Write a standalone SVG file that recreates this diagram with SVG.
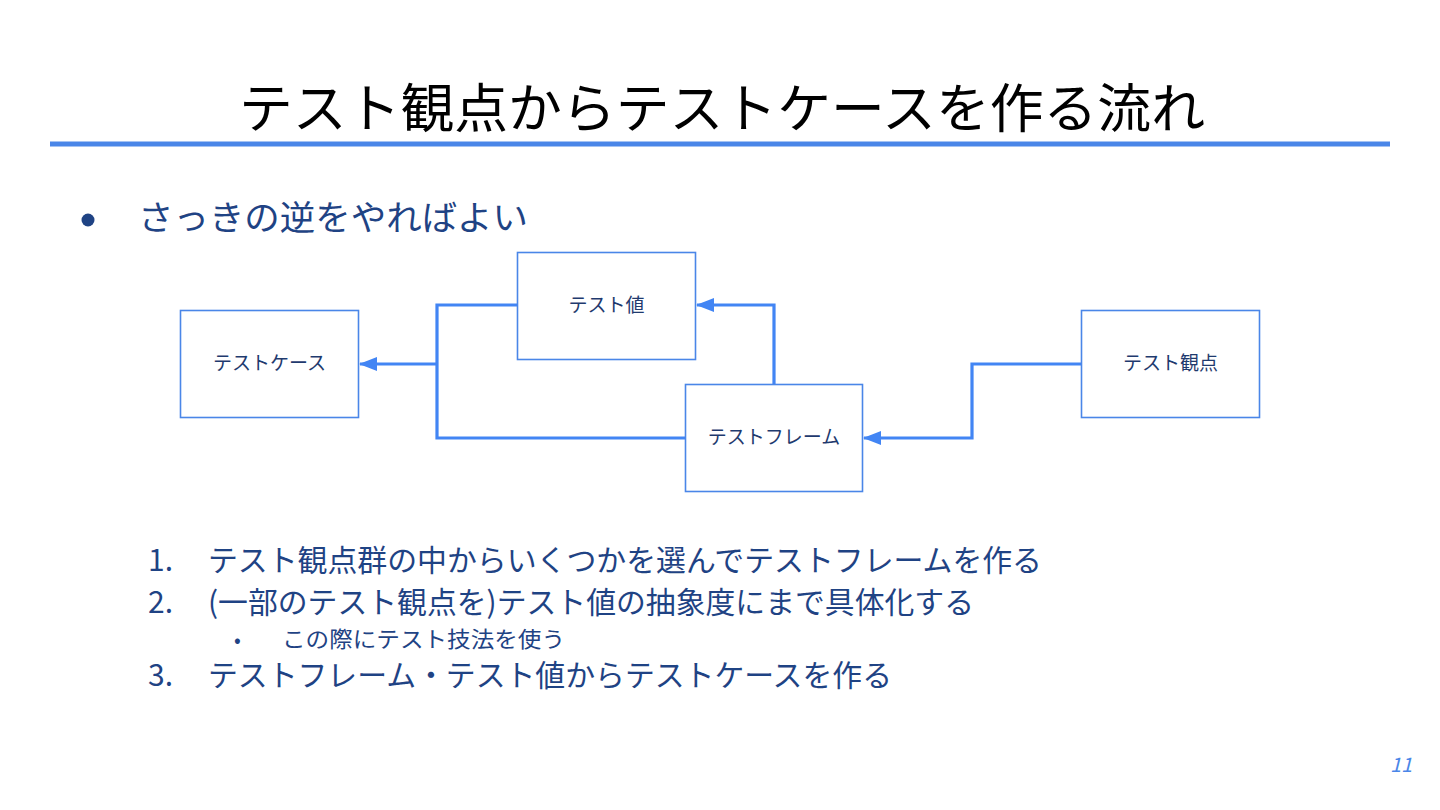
<svg xmlns="http://www.w3.org/2000/svg" width="1440" height="810" viewBox="0 0 1440 810">
<defs>
<style>
text{font-family:"Noto Sans CJK JP","Noto Sans",sans-serif;}
.title{font-size:53px;fill:#000;}
.body{fill:#1f4384;}
.box{fill:#fff;stroke:#4a86e8;stroke-width:1.6;}
.lbl{font-size:19px;fill:#1f3a6e;text-anchor:middle;}
.conn{fill:none;stroke:#4285f4;stroke-width:3.2;}
</style>
<marker id="arr" viewBox="0 0 10 10" refX="9" refY="5" markerWidth="6" markerHeight="6" markerUnits="userSpaceOnUse" orient="auto">
<path d="M0,0 L10,5 L0,10 z" fill="#4285f4"/>
</marker>
<marker id="arrow" viewBox="0 0 18 14" refX="17" refY="7" markerWidth="18" markerHeight="14" markerUnits="userSpaceOnUse" orient="auto">
<path d="M0,0 L18,7 L0,14 z" fill="#4285f4"/>
</marker>
</defs>
<rect width="1440" height="810" fill="#fff"/>
<text class="title" x="722" y="128" text-anchor="middle" textLength="966" lengthAdjust="spacingAndGlyphs">テスト観点からテストケースを作る流れ</text>
<rect x="50" y="141.5" width="1340" height="5" fill="#4a86e8"/>
<circle cx="88" cy="220" r="6.5" fill="#1f4384"/>
<text class="body" x="138" y="230" font-size="34" textLength="390" lengthAdjust="spacingAndGlyphs">さっきの逆をやればよい</text>

<g id="connectors">
<path class="conn" d="M517,305 H437 V438 H685"/>
<path class="conn" d="M437,364 H360" marker-end="url(#arrow)"/>
<path class="conn" d="M774,384 V305 H697" marker-end="url(#arrow)"/>
<path class="conn" d="M1081,364 H972 V438 H864" marker-end="url(#arrow)"/>
</g>

<g id="node-testcase">
<rect class="box" x="180.5" y="310.5" width="178" height="107"/>
<text class="lbl" x="269.5" y="370">テストケース</text>
</g>
<g id="node-testvalue">
<rect class="box" x="517.5" y="252.5" width="178" height="107"/>
<text class="lbl" x="606.5" y="312">テスト値</text>
</g>
<g id="node-testframe">
<rect class="box" x="685.5" y="384.5" width="177" height="107"/>
<text class="lbl" x="774" y="444">テストフレーム</text>
</g>
<g id="node-testviewpoint">
<rect class="box" x="1081.5" y="310.5" width="178" height="107"/>
<text class="lbl" x="1170.5" y="370">テスト観点</text>
</g>

<g class="body" font-size="30">
<text x="148" y="571">1.</text>
<text x="208" y="571" textLength="834" lengthAdjust="spacingAndGlyphs">テスト観点群の中からいくつかを選んでテストフレームを作る</text>
<text x="148" y="613">2.</text>
<text x="208" y="613" textLength="766" lengthAdjust="spacingAndGlyphs">(一部のテスト観点を)テスト値の抽象度にまで具体化する</text>
<text x="234" y="647" font-size="20">•</text>
<text x="282" y="647" font-size="22" textLength="283" lengthAdjust="spacingAndGlyphs">この際にテスト技法を使う</text>
<text x="148" y="686">3.</text>
<text x="208" y="686" textLength="684" lengthAdjust="spacingAndGlyphs">テストフレーム・テスト値からテストケースを作る</text>
</g>
<text x="1390" y="772" font-size="20" font-style="italic" fill="#4a86e8" font-family="Liberation Sans, sans-serif">11</text>
</svg>
